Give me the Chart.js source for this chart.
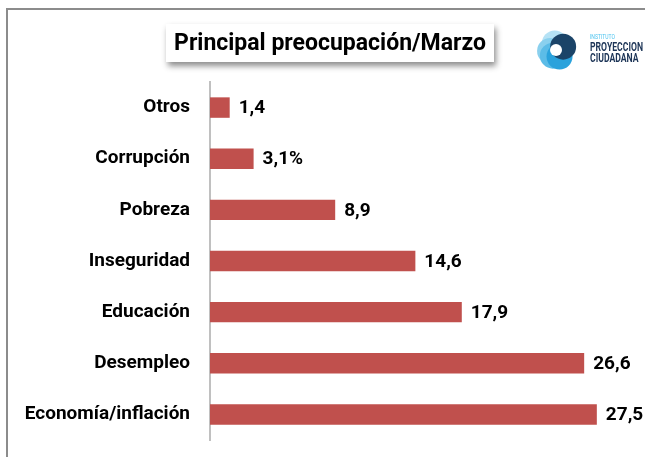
<!DOCTYPE html>
<html>
<head>
<meta charset="utf-8">
<script src="https://cdn.jsdelivr.net/npm/chart.js@4"></script>
<style>
    body { margin: 0; background: #fff; }
    #wrap { width: 645px; height: 457px; position: relative; }
</style>
</head>
<body>
<div id="wrap"><canvas id="preocupacion"></canvas></div>
<script>
    const categories = ["Otros", "Corrupción", "Pobreza", "Inseguridad", "Educación", "Desempleo", "Economía/inflación"];
    const values = [1.4, 3.1, 8.9, 14.6, 17.9, 26.6, 27.5];
    const valueLabels = ["1,4", "3,1%", "8,9", "14,6", "17,9", "26,6", "27,5"];

    const FONT = "Roboto, 'Open Sans', sans-serif";

    // frame, title box and logo
    const decor = {
        id: "decor",
        beforeDraw(chart) {
            const ctx = chart.ctx;
            ctx.save();
            ctx.strokeStyle = "#8c8c8c";
            ctx.lineWidth = 2;
            ctx.strokeRect(7, 9, 700, 500);

            ctx.shadowColor = "rgba(0,0,0,0.45)";
            ctx.shadowBlur = 6;
            ctx.shadowOffsetX = 2;
            ctx.shadowOffsetY = 4;
            ctx.fillStyle = "#fff";
            ctx.fillRect(166, 24, 328, 38);
            ctx.restore();

            ctx.save();
            ctx.fillStyle = "#000";
            ctx.font = "bold 23px " + FONT;
            ctx.textAlign = "center";
            ctx.textBaseline = "middle";
            ctx.fillText("Principal preocupación/Marzo", 330, 44);

            // logo swirl
            const cx = 557, cy = 50;
            const petals = [
                ["#b5e2f5", -1.9],
                ["#8ad0ee", 3.0],
                ["#5cbce7", 2.2],
                ["#2aa2dc", 1.2],
                ["#1b4468", -0.5],
            ];
            petals.forEach(function (p) {
                ctx.fillStyle = p[0];
                ctx.beginPath();
                ctx.arc(cx + Math.cos(p[1]) * 7, cy + Math.sin(p[1]) * 7, 13, 0, Math.PI * 2);
                ctx.fill();
            });
            ctx.fillStyle = "#fff";
            ctx.beginPath();
            ctx.arc(cx - 1, cy, 6, 0, Math.PI * 2);
            ctx.fill();

            ctx.textAlign = "left";
            ctx.textBaseline = "alphabetic";
            ctx.translate(590, 0);
            ctx.scale(0.72, 1);
            ctx.fillStyle = "#4cc3ef";
            ctx.font = "7px " + FONT;
            ctx.fillText("INSTITUTO", 0, 39);
            ctx.fillStyle = "#1d3557";
            ctx.font = "bold 12px " + FONT;
            ctx.fillText("PROYECCION", 0, 51);
            ctx.fillText("CIUDADANA", 0, 62);
            ctx.restore();
        }
    };

    // value labels at the end of each bar
    const barLabels = {
        id: "barLabels",
        afterDatasetsDraw(chart) {
            const ctx = chart.ctx;
            const meta = chart.getDatasetMeta(0);
            ctx.save();
            ctx.fillStyle = "#000";
            ctx.font = "bold 19px " + FONT;
            ctx.textAlign = "left";
            ctx.textBaseline = "middle";
            meta.data.forEach(function (bar, i) {
                ctx.fillText(valueLabels[i], bar.x + 9, bar.y + 1);
            });
            ctx.restore();
        }
    };

    new Chart(document.getElementById("preocupacion"), {
        type: "bar",
        data: {
            labels: categories,
            datasets: [
                {
                    data: values,
                    backgroundColor: "#c0504d",
                    barPercentage: 0.8,
                    categoryPercentage: 0.5,
                },
            ],
        },
        options: {
            indexAxis: "y",
            responsive: true,
            maintainAspectRatio: false,
            animation: false,
            layout: { padding: { top: 82, bottom: 17, left: 0, right: 13 } },
            plugins: {
                legend: { display: false },
                tooltip: { enabled: false },
            },
            scales: {
                x: { display: false, min: 0, max: 30 },
                y: {
                    afterFit: function (scale) {
                        scale.width = 210;
                        scale.paddingTop = 0;
                        scale.paddingBottom = 0;
                    },
                    grid: { display: false, drawTicks: false },
                    border: { display: true, color: "#c0c0c0", width: 2 },
                    ticks: {
                        padding: 20,
                        color: "#000",
                        font: { family: FONT, size: 19, weight: "bold" },
                    },
                },
            },
        },
        plugins: [decor, barLabels],
    });
</script>
</body>
</html>
